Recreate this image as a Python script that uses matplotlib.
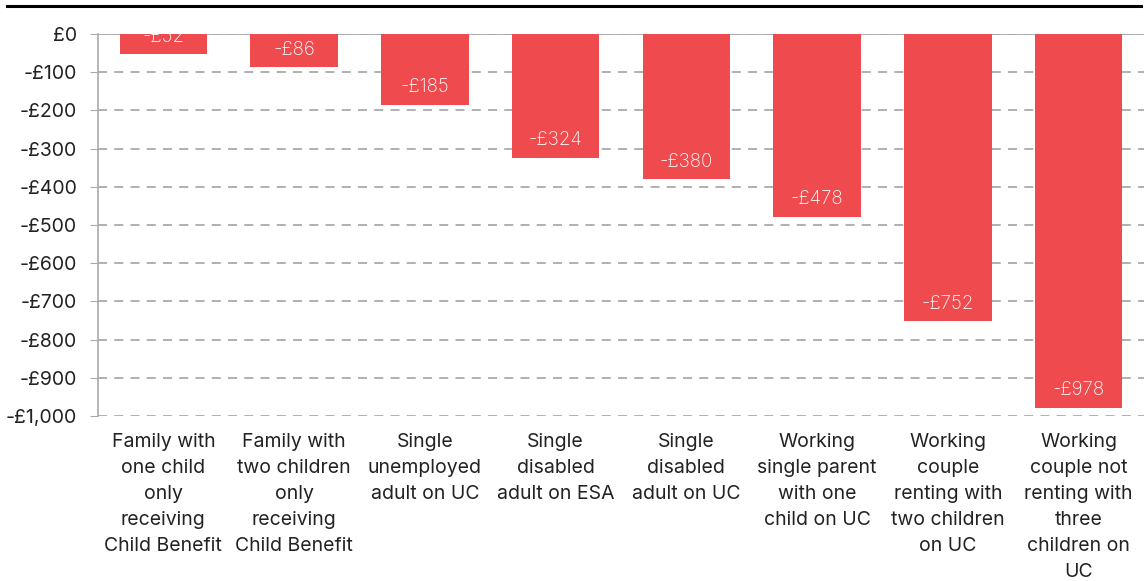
import matplotlib.pyplot as plt
from matplotlib.lines import Line2D

categories = [
    "Family with\none child\nonly\nreceiving\nChild Benefit",
    "Family with\ntwo children\nonly\nreceiving\nChild Benefit",
    "Single\nunemployed\nadult on UC",
    "Single\ndisabled\nadult on ESA",
    "Single\ndisabled\nadult on UC",
    "Working\nsingle parent\nwith one\nchild on UC",
    "Working\ncouple\nrenting with\ntwo children\non UC",
    "Working\ncouple not\nrenting with\nthree\nchildren on\nUC",
]
values = [-52, -86, -185, -324, -380, -478, -752, -978]
yticks = [0, -100, -200, -300, -400, -500, -600, -700, -800, -900, -1000]

plt.rcParams['font.family'] = ['Inter', 'DejaVu Sans']
text_col = '#222222'
bar_col = '#EF4B4F'

fig = plt.figure(figsize=(11.48, 5.81), dpi=100)
ax = fig.add_axes([98 / 1148, 1 - 416 / 581, 1046 / 1148, 382 / 581])

x = range(len(values))
bars = ax.bar(x, values, width=0.67, color=bar_col, zorder=3)
for b, v in zip(bars, values):
    ax.annotate(f"-£{abs(v):,}", (b.get_x() + b.get_width() / 2, v),
                xytext=(0, 6), textcoords='offset points', ha='center', va='bottom',
                color='white', fontsize=13.5, fontweight='light', zorder=4)

ax.set_xlim(-0.5, len(values) - 0.5)
ax.set_ylim(-1000, 0)
ax.set_yticks(yticks)
ax.set_yticklabels(["£0"] + [f"-£{abs(t):,}" for t in yticks[1:]], fontsize=14, color=text_col)
ax.set_xticks(list(x))
ax.set_xticklabels(categories, fontsize=14, color=text_col, linespacing=1.58)
ax.tick_params(axis='x', length=0, pad=12)
ax.tick_params(axis='y', length=6, color='#aaaaaa', pad=9)
ax.grid(axis='y', color='#aaaaaa', linestyle=(0, (5, 4)), linewidth=1.3, zorder=0)
ax.axhline(0, color='#aaaaaa', linewidth=1.3, zorder=2)
for s in ['top', 'right', 'bottom']:
    ax.spines[s].set_visible(False)
ax.spines['left'].set_color('#aaaaaa')
ax.spines['left'].set_linewidth(1.2)

fig.add_artist(Line2D([7 / 1148, 1141 / 1148], [1 - 6 / 581, 1 - 6 / 581], color='black', linewidth=2.2))

fig.savefig('out.png', dpi=100)
